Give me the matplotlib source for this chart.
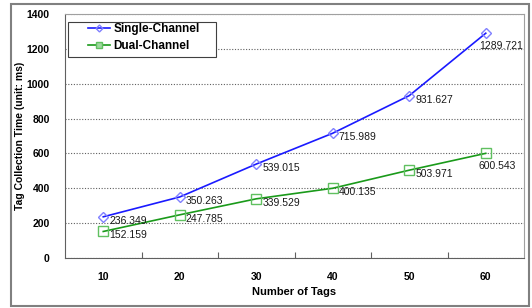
import matplotlib
matplotlib.use('Agg')
import matplotlib.pyplot as plt
from matplotlib.patches import Rectangle

plt.rcParams['font.family'] = ['Liberation Sans', 'DejaVu Sans']

tags = [10, 20, 30, 40, 50, 60]
single = [236.349, 350.263, 539.015, 715.989, 931.627, 1289.721]
dual = [152.159, 247.785, 339.529, 400.135, 503.971, 600.543]
yticks = [0, 200, 400, 600, 800, 1000, 1200, 1400]

fig = plt.figure(figsize=(5.32, 3.08), dpi=100)
fig.patches.append(Rectangle((11/532, 2/308), 518/532, 302/308, transform=fig.transFigure,
                             fill=False, edgecolor='#808080', lw=1.5))
ax = fig.add_axes([65/532, 50/308, 459/532, 244/308])

pos = list(range(1, len(tags) + 1))
ax.plot(pos, single, color='#1a1aff', lw=1.2, marker='D', ms=5.5,
        mfc='none', mec='#8080ff', mew=1.0, label='Single-Channel')
ax.plot(pos, dual, color='#1a9a1a', lw=1.2, marker='s', ms=6.5,
        mfc='none', mec='#60c060', mew=1.0, label='Dual-Channel')

for series in (single, dual):
    for i, v in enumerate(series):
        off = (6, -4) if i < len(series) - 1 else (-7, -13)
        ax.annotate('%.3f' % v, (pos[i], v), xytext=off, textcoords='offset pixels',
                    ha='left', va='center', fontsize=7.5, color='#1a1a1a')

ax.set_xlim(0.5, len(tags) + 0.5)
ax.set_ylim(0, 1400)
ax.set_yticks(yticks)
ax.set_yticklabels([str(t) for t in yticks], fontsize=7.5, fontweight='bold')
ax.set_xticks([p + 0.5 for p in pos[:-1]])
ax.set_xticklabels([])
ax.set_xticks(pos, minor=True)
ax.set_xticklabels([str(t) for t in tags], minor=True, fontsize=7.5, fontweight='bold')
ax.tick_params(axis='x', which='minor', length=0, pad=10)
ax.tick_params(axis='x', which='major', direction='in', length=4, color='#606060')
ax.tick_params(axis='y', length=0, pad=11)
ax.grid(axis='y', linestyle=(0, (1, 1.5)), color='#606060', lw=0.8)
ax.set_axisbelow(True)
for s in ax.spines.values():
    s.set_color('#a0a0a0')
ax.spines['left'].set_color('#606060')
ax.spines['bottom'].set_color('#606060')

ax.set_xlabel('Number of Tags', fontsize=8, fontweight='bold', labelpad=4)
ax.set_ylabel('Tag Collection Time (unit: ms)', fontsize=7.5, fontweight='bold', labelpad=1)

# legend box drawn separately so the entries can sit inset like the original
ax.add_patch(Rectangle((3/459, 1 - 43/244), 148/459, 35/244, transform=ax.transAxes,
                       facecolor='white', edgecolor='#404040', lw=0.8, zorder=4))
h1, = ax.plot([], [], color='#1a1aff', lw=1.2, marker='D', ms=3.5, mfc='none', mec='#8080ff')
h2, = ax.plot([], [], color='#1a9a1a', lw=1.2, marker='s', ms=4.5, mfc='#a0d8a0', mec='#60c060')
leg = ax.legend([h1, h2], ['Single-Channel', 'Dual-Channel'], loc='upper left',
                bbox_to_anchor=(23/459, 1 - 9/244), prop={'weight': 'bold', 'size': 8.5},
                frameon=False, handlelength=1.9, borderpad=0, borderaxespad=0,
                labelspacing=0.42, handletextpad=0.25)
leg.set_zorder(5)

fig.savefig('out.png', dpi=100)
